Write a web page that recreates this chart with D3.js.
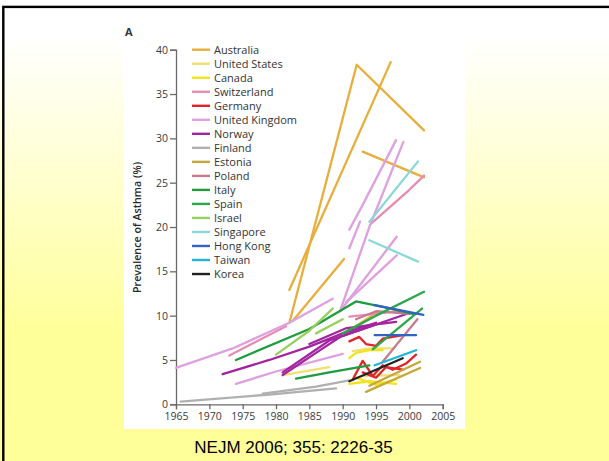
<!DOCTYPE html>
<html>
<head>
<meta charset="utf-8">
<script src="https://cdn.jsdelivr.net/npm/d3@7"></script>
<style>
  body { margin: 0; padding: 0; overflow: hidden; }
  svg { display: block; }
</style>
</head>
<body>
<svg id="slide"></svg>
<script>
// legend order, one colour per country
var countries = ["Australia", "United States", "Canada", "Switzerland", "Germany",
  "United Kingdom", "Norway", "Finland", "Estonia", "Poland", "Italy", "Spain",
  "Israel", "Singapore", "Hong Kong", "Taiwan", "Korea"];

var colors = ["#e8ae3c", "#f0e070", "#f2e41c", "#e68cb2", "#e0242a",
  "#dea0e0", "#a3249f", "#b0b0b0", "#c4a83c", "#c67c8e", "#1e9c3e", "#2aa84a",
  "#98d060", "#8ad8d8", "#3462c4", "#22b4d8", "#222222"];

// each country: list of survey series, each series = [year, prevalence %]
var australia = [
  [[1982, 9.2], [1992.1, 38.3], [2002.2, 30.9]],
  [[1982, 12.9], [1997.2, 38.6]],
  [[1982.5, 9.4], [1990.2, 16.4]],
  [[1993, 28.5], [2002.2, 25.6]],
  [[1990.5, 8.1], [1995.2, 10.4]]
];
var unitedStates = [
  [[1981, 3.3], [1988, 4.2]],
  [[1991.5, 6.0], [1994, 6.3], [1997.5, 6.3]],
  [[1993, 3.2], [1998.5, 3.3]]
];
var canada = [
  [[1991, 5.2], [1992, 5.8], [1994, 6.1], [1996, 6.1]],
  [[1991, 2.3], [1994, 2.6], [1998, 2.3]],
  [[1992, 3.0], [1995, 2.2], [1998, 2.8]]
];
var switzerland = [
  [[1973, 5.5], [1981.5, 8.8]],
  [[1991, 9.9], [1998.5, 10.5]],
  [[1994.3, 20.4], [2000, 24.2], [2002.2, 25.8]]
];
var germany = [
  [[1991, 7.1], [1992.5, 7.6], [1993.5, 6.8], [1995, 6.6], [1996, 7.4], [1999, 7.8]],
  [[1991.5, 2.8], [1993, 4.9], [1994.5, 3.2], [1996, 4.4], [1997.5, 3.9], [1999.5, 4.6], [2001, 5.6]],
  [[1993, 3.6], [1995, 3.0], [1996.5, 4.2], [1999, 3.9]]
];
var unitedKingdom = [
  [[1965, 4.1], [1973.5, 6.3], [1982, 9.2], [1988.5, 11.9]],
  [[1974, 2.3], [1980, 3.7], [1990, 5.7]],
  [[1989.6, 10.5], [1994, 20.0], [1999.1, 29.6]],
  [[1991, 19.7], [1993, 22.5], [1998, 29.8]],
  [[1991, 17.6], [1992.6, 20.6]],
  [[1989.6, 10.5], [1998.1, 18.9]],
  [[1990.5, 11.5], [1998.1, 16.8]]
];
var norway = [
  [[1972, 3.4], [1979, 5.0], [1985, 6.5], [1990, 8.0], [1995, 9.2]],
  [[1981, 3.3], [1986, 5.8], [1989.6, 7.6], [1994.6, 8.9]],
  [[1981, 3.6], [1988, 7.2], [2000, 10.3]],
  [[1985, 6.8], [1990.6, 8.6], [1998, 9.3]]
];
var finland = [
  [[1965.7, 0.3], [1979, 1.1], [1989, 1.8]],
  [[1978, 1.2], [1986, 2.0], [1991, 2.7]]
];
var estonia = [
  [[1993.5, 1.4], [2001.6, 4.1]],
  [[1994, 2.1], [2001.6, 4.8]]
];
var poland = [
  [[1996, 4.8], [2001.2, 9.6]],
  [[1992, 9.6], [1995, 10.5], [2000, 10.2]]
];
var italy = [
  [[1974, 5.0], [1985, 8.5], [1992, 11.6], [1996, 11.0], [2000.5, 10.2]],
  [[1983, 2.9], [1988, 3.6], [1994, 4.4]]
];
var spain = [
  [[1990, 8.0], [1995, 10.0], [2002.2, 12.7]],
  [[1994.5, 6.2], [2001.9, 10.8]]
];
var israel = [
  [[1980, 5.6], [1985, 8.3], [1988.5, 10.8]],
  [[1986, 8.0], [1990, 9.6]]
];
var singapore = [
  [[1994, 20.6], [2001.3, 27.4]],
  [[1994, 18.5], [2001.3, 16.1]]
];
var hongKong = [
  [[1994.8, 7.8], [2001, 7.8]],
  [[1994.8, 11.2], [2002.1, 10.1]]
];
var taiwan = [
  [[1994.8, 4.4], [2001, 6.1]]
];
var korea = [
  [[1991, 2.6], [1999, 5.2]]
];

var seriesByCountry = [australia, unitedStates, canada, switzerland, germany,
  unitedKingdom, norway, finland, estonia, poland, italy, spain,
  israel, singapore, hongKong, taiwan, korea];

var xTicks = [1965, 1970, 1975, 1980, 1985, 1990, 1995, 2000, 2005];
var yTicks = [0, 5, 10, 15, 20, 25, 30, 35, 40];

var width = 609, height = 461;

var svg = d3.select("#slide")
  .attr("width", width)
  .attr("height", height);

// slide background: white fading into pale yellow
var grad = svg.append("defs").append("linearGradient")
  .attr("id", "bg").attr("x1", 0).attr("y1", 0).attr("x2", 0).attr("y2", 1);
grad.append("stop").attr("offset", "0%").attr("stop-color", "#ffffff");
grad.append("stop").attr("offset", "8%").attr("stop-color", "#ffffff");
grad.append("stop").attr("offset", "72%").attr("stop-color", "#ffff9a");
grad.append("stop").attr("offset", "100%").attr("stop-color", "#ffff99");

svg.append("rect")
  .attr("width", width).attr("height", height)
  .attr("fill", "url(#bg)");

svg.append("rect")
  .attr("x", 3.3).attr("y", 6.9)
  .attr("width", 800).attr("height", 800)
  .attr("fill", "none")
  .attr("stroke", "#000")
  .attr("stroke-width", 2.4);

// the figure itself sits on a white card
svg.append("rect")
  .attr("x", 124).attr("y", 20)
  .attr("width", 341).attr("height", 409)
  .attr("fill", "#ffffff");

var x = d3.scaleLinear().domain([1965, 2005]).range([176, 442.7]);
var y = d3.scaleLinear().domain([0, 40]).range([404.3, 49.7]);

var font = "'Open Sans', 'DejaVu Sans', sans-serif";

// axes
var yAxis = svg.append("g")
  .attr("transform", "translate(" + x(1965) + ",0)")
  .call(d3.axisLeft(y).tickValues(yTicks).tickSize(6).tickPadding(2));

var xAxis = svg.append("g")
  .attr("transform", "translate(0," + y(0) + ")")
  .call(d3.axisBottom(x).tickValues(xTicks).tickSize(5).tickPadding(3).tickFormat(d3.format("d")));

[yAxis, xAxis].forEach(function (g) {
  g.select(".domain").attr("stroke", "#6a6a6a").attr("stroke-width", 1.3);
  g.selectAll(".tick line").attr("stroke", "#6a6a6a").attr("stroke-width", 1.3);
  g.selectAll(".tick text")
    .attr("fill", "#3a3a3a")
    .style("font-family", font)
    .style("font-size", "10.5px");
});

svg.append("text")
  .attr("transform", "translate(141,227.5) rotate(-90)")
  .attr("text-anchor", "middle")
  .attr("fill", "#2a2a2a")
  .style("font-family", font)
  .style("font-size", "10.7px")
  .style("font-weight", 600)
  .text("Prevalence of Asthma (%)");

svg.append("text")
  .attr("x", 125).attr("y", 36)
  .attr("fill", "#333")
  .style("font-family", font)
  .style("font-size", "11px")
  .style("font-weight", 700)
  .text("A");

// survey lines
var line = d3.line()
  .x(function (d) { return x(d[0]); })
  .y(function (d) { return y(d[1]); });

var lines = svg.append("g");

seriesByCountry.forEach(function (segs, i) {
  lines.selectAll(".c" + i)
    .data(segs)
    .enter()
    .append("path")
    .attr("class", "c" + i)
    .attr("d", line)
    .attr("fill", "none")
    .attr("stroke", colors[i])
    .attr("stroke-width", 2.3)
    .attr("stroke-linecap", "round")
    .attr("stroke-linejoin", "round");
});

// legend
var legend = svg.append("g")
  .attr("transform", "translate(192,49.7)");

var item = legend.selectAll(".item")
  .data(countries)
  .enter()
  .append("g")
  .attr("class", "item")
  .attr("transform", function (d, i) { return "translate(0," + (i * 14.02) + ")"; });

item.append("line")
  .attr("x1", 0).attr("x2", 18)
  .attr("stroke", function (d, i) { return colors[i]; })
  .attr("stroke-width", 2.4);

item.append("text")
  .attr("x", 22)
  .attr("dy", "0.35em")
  .attr("fill", "#333")
  .style("font-family", font)
  .style("font-size", "11px")
  .text(function (d) { return d; });

// source caption
svg.append("text")
  .attr("x", 293.5).attr("y", 453)
  .attr("text-anchor", "middle")
  .attr("fill", "#000")
  .style("font-family", "'Liberation Sans', Arial, sans-serif")
  .style("font-size", "17px")
  .text("NEJM 2006; 355: 2226-35");
</script>
</body>
</html>
